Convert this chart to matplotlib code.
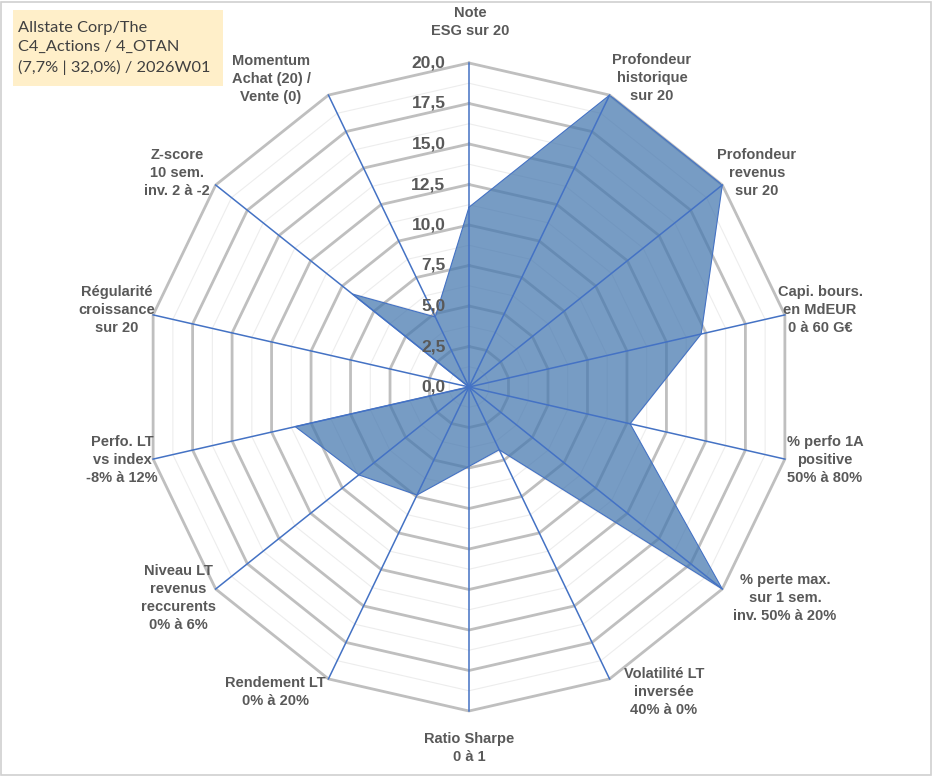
import numpy as np
import matplotlib
matplotlib.use('Agg')
import matplotlib.pyplot as plt
from matplotlib.patches import Rectangle

# axes labels, clockwise from the top
labels = [
    'Note\nESG sur 20',
    'Profondeur\nhistorique\nsur 20',
    'Profondeur\nrevenus\nsur 20',
    'Capi. bours.\nen MdEUR\n0 à 60 G€',
    '% perfo 1A\npositive\n50% à 80%',
    '% perte max.\nsur 1 sem.\ninv. 50% à 20%',
    'Volatilité LT\ninversée\n40% à 0%',
    'Ratio Sharpe\n0 à 1',
    'Rendement LT\n0% à 20%',
    'Niveau LT\nrevenus\nreccurents\n0% à 6%',
    'Perfo. LT\nvs index\n-8% à 12%',
    'Régularité\ncroissance\nsur 20',
    'Z-score\n10 sem.\ninv. 2 à -2',
    'Momentum\nAchat (20) /\nVente (0)',
]
scores = [11.1, 20.0, 20.0, 14.7, 10.2, 20.0, 4.3, 4.9, 7.4, 8.7, 11.0, 0.0, 9.2, 4.8]
r_ticks = [0, 2.5, 5, 7.5, 10, 12.5, 15, 17.5, 20]
title_lines = ['Allstate Corp/The', 'C4_Actions / 4_OTAN', '(7,7% | 32,0%) / 2026W01']

# label centres in pixels (x, y from top) on the 933x776 image
label_pos = [(470, 22), (652, 78), (757, 173), (820, 310), (825, 460), (785, 598),
             (664, 692), (469, 748), (275, 692), (178, 598), (122, 460), (117, 310),
             (177, 173), (271, 79)]

W, H = 933, 776
fig = plt.figure(figsize=(W / 100, H / 100), dpi=100)
fig.patch.set_facecolor('white')

cx, cy, R = 469, 387, 324
ax = fig.add_axes([(cx - R) / W, (H - cy - R) / H, 2 * R / W, 2 * R / H], projection='polar')
ax.set_theta_zero_location('N')
ax.set_theta_direction(-1)
ax.set_ylim(0, 20)
ax.grid(False)
ax.set_xticks([])
ax.set_yticks([])
ax.spines['polar'].set_visible(False)
ax.patch.set_alpha(0)

n = len(labels)
theta = np.linspace(0, 2 * np.pi, n, endpoint=False)
theta_c = np.append(theta, theta[0])

# minor rings
for r in np.arange(1.25, 20, 2.5):
    ax.plot(theta_c, [r] * (n + 1), color='#EDEDED', lw=0.8, zorder=1, clip_on=False)
# major rings
for r in r_ticks[1:]:
    ax.plot(theta_c, [r] * (n + 1), color='#BFBFBF', lw=2.0, zorder=2, clip_on=False)

vals = np.append(scores, scores[0])
# soft shadow, then the fill
ax.fill(theta_c + 0.004, vals * 0.99 + 0.15, color='#000000',
        alpha=0.07, zorder=2.5, lw=0)
ax.fill(theta_c, vals, color='#4A7DB5', alpha=0.72, zorder=3, lw=0)
ax.plot(theta_c, vals, color='#4472C4', lw=0.8, zorder=3.5)

# spokes
for t in theta:
    ax.plot([t, t], [0, 20], color='#4472C4', lw=1.1, zorder=4, clip_on=False)

for r in r_ticks:
    ax.annotate(f'{r:.1f}'.replace('.', ','), xy=(0, r), xytext=(-17, 0),
                textcoords='offset points', ha='right', va='center',
                fontsize=12.5, fontweight='bold', color='#595959',
                family='Liberation Sans', zorder=5)

for lab, (px, py) in zip(labels, label_pos):
    fig.text(px / W, 1 - py / H, lab, ha='center', va='center', fontsize=10.5,
             fontweight='bold', color='#595959', family='Liberation Sans',
             linespacing=1.38)

# title box
fig.patches.append(Rectangle((13 / W, 1 - 86 / H), 210 / W, 76 / H,
                             transform=fig.transFigure, facecolor='#FFEFC9',
                             edgecolor='none', zorder=0))
fig.text(18 / W, 1 - 48 / H, '\n'.join(title_lines), ha='left', va='center',
         fontsize=11.8, color='#404040', family='Lato', linespacing=1.45)

# outer frame
fig.patches.append(Rectangle((1 / W, 1 / H), (W - 3) / W, (H - 3) / H,
                             transform=fig.transFigure, facecolor='none',
                             edgecolor='#D0D0D0', lw=1.2))

fig.savefig('out.png', dpi=100)
